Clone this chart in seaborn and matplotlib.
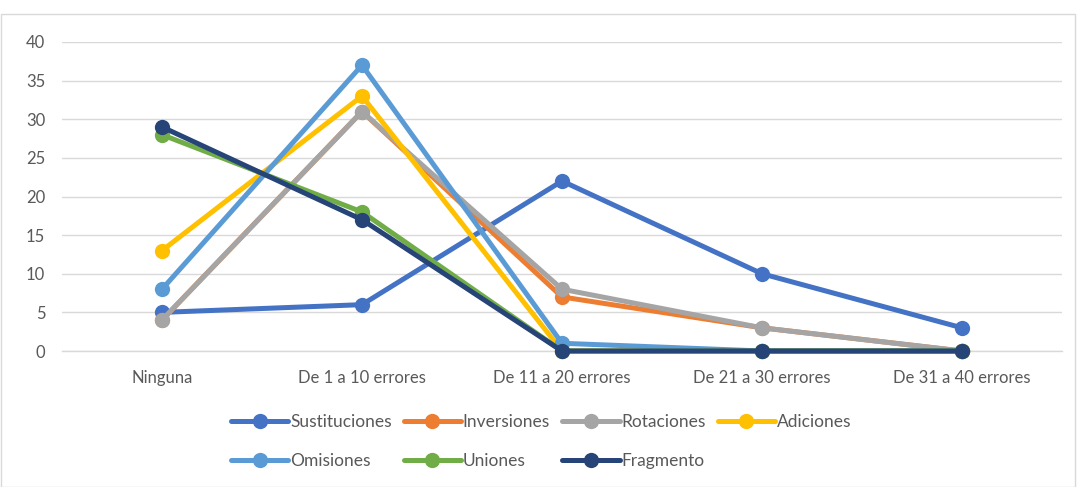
import pandas as pd
import seaborn as sns
import matplotlib.pyplot as plt
from matplotlib.lines import Line2D
from matplotlib.patches import Rectangle

# categorias del eje x
categorias = ['Ninguna', 'De 1 a 10 errores', 'De 11 a 20 errores',
              'De 21 a 30 errores', 'De 31 a 40 errores']

# valores por tipo de error
sustituciones = [5, 6, 22, 10, 3]
inversiones = [4, 31, 7, 3, 0]
rotaciones = [4, 31, 8, 3, 0]
adiciones = [13, 33, 0, 0, 0]
omisiones = [8, 37, 1, 0, 0]
uniones = [28, 18, 0, 0, 0]
fragmento = [29, 17, 0, 0, 0]

series = {
    'Sustituciones': sustituciones,
    'Inversiones': inversiones,
    'Rotaciones': rotaciones,
    'Adiciones': adiciones,
    'Omisiones': omisiones,
    'Uniones': uniones,
    'Fragmento': fragmento,
}
colores = {
    'Sustituciones': '#4472C4',
    'Inversiones': '#ED7D31',
    'Rotaciones': '#A5A5A5',
    'Adiciones': '#FFC000',
    'Omisiones': '#5B9BD5',
    'Uniones': '#70AD47',
    'Fragmento': '#264478',
}

rows = []
for nombre, vals in series.items():
    for cat, v in zip(categorias, vals):
        rows.append({'Categoria': cat, 'Valor': v, 'Serie': nombre})
df = pd.DataFrame(rows)

sns.set_style('white')
plt.rcParams['font.family'] = ['Lato', 'DejaVu Sans']
texto = '#595959'

fig = plt.figure(figsize=(10.78, 4.87), dpi=100)
ax = fig.add_axes([62 / 1078, 136 / 487, 1000 / 1078, 309 / 487])

sns.lineplot(data=df, x='Categoria', y='Valor', hue='Serie',
             hue_order=list(series.keys()), palette=colores,
             marker='o', markersize=11, markeredgewidth=0,
             linewidth=3.6, sort=False, legend=False, ax=ax)
for ln in ax.lines:
    ln.set_clip_on(False)

ax.set_xlim(-0.5, 4.5)
ax.set_ylim(0, 40)
ax.set_yticks(range(0, 41, 5))
ax.grid(axis='y', color='#d9d9d9', linewidth=1)
ax.set_axisbelow(True)
for s in ['left', 'right', 'top']:
    ax.spines[s].set_visible(False)
ax.spines['bottom'].set_color('#d9d9d9')
ax.spines['bottom'].set_linewidth(1)
ax.spines['bottom'].set_zorder(0)
ax.tick_params(axis='both', length=0, labelsize=12, colors=texto)
ax.tick_params(axis='x', pad=14)
ax.tick_params(axis='y', pad=12)
ax.set_xlabel('')
ax.set_ylabel('')

# leyenda estilo Excel (orden por filas)
handles = {n: Line2D([], [], color=c, linewidth=3.6, marker='o', markersize=11,
                     markeredgewidth=0) for n, c in colores.items()}
orden = ['Sustituciones', 'Omisiones', 'Inversiones', 'Uniones',
         'Rotaciones', 'Fragmento', 'Adiciones']
fig.legend([handles[n] for n in orden], orden, loc='center',
           bbox_to_anchor=(0.502, 0.093), ncol=4, frameon=False,
           fontsize=12.5, labelcolor=texto, handlelength=3.3,
           handletextpad=0.1, columnspacing=0.7, labelspacing=1.3)

fig.patches.append(Rectangle((0.001, 0.0), 0.996, 0.972, transform=fig.transFigure,
                             fill=False, edgecolor='#d9d9d9', linewidth=1))

fig.savefig('out.png', dpi=100)
